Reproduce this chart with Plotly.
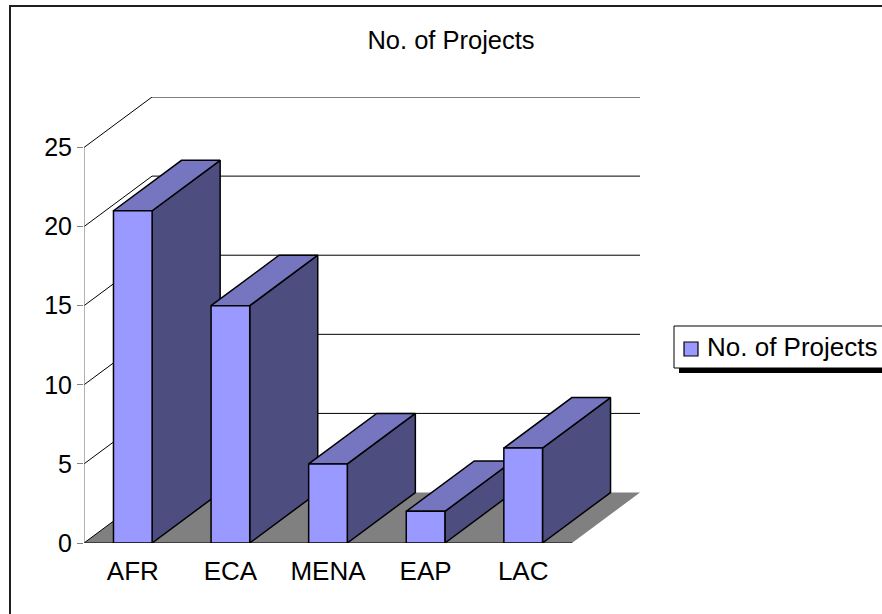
import plotly.graph_objects as go

# Chart data
categories = ["AFR", "ECA", "MENA", "EAP", "LAC"]
projects = [21, 15, 5, 2, 6]
y_ticks = [0, 5, 10, 15, 20, 25]
series_name = "No. of Projects"
chart_title = "No. of Projects"

# Oblique 3-D styling (in data units)
HW = 0.198          # half width of a bar (category units)
DX = 0.697          # depth offset along x (category units)
DY = 3.19           # depth offset along y (value units)
Y_MAX = 25

FRONT = "#9999FF"
TOP = "#7575C0"
SIDE = "#4D4D80"
FLOOR = "#808080"
FONT = "Liberation Sans, Arial, sans-serif"

W, H = 882, 614
ML, MR, MT, MB = 84, 242, 97, 71


def px_x(p):
    return (p - ML) / (W - ML - MR)


def px_y(p):
    return (H - MB - p) / (H - MT - MB)


fig = go.Figure()


def poly(xs, ys, fill, lw=1.5, lc="black"):
    fig.add_trace(go.Scatter(
        x=xs + [xs[0]], y=ys + [ys[0]], mode="lines", fill="toself",
        fillcolor=fill, line=dict(color=lc, width=lw),
        hoverinfo="skip", showlegend=False))


n = len(categories)
x_left, x_right = -0.5, n - 0.5

# floor
poly([x_left, x_right, x_right + DX, x_left + DX], [0, 0, DY, DY], FLOOR, lw=0, lc=FLOOR)

# back-wall and side-wall gridlines
gx, gy = [], []
for t in y_ticks:
    if t == 0:
        gx += [x_left, x_left + DX, None]
        gy += [0, DY, None]
    else:
        gx += [x_left, x_left + DX, x_right + DX, None]
        gy += [t, t + DY, t + DY, None]
gx += [x_left, x_right, None]
gy += [0, 0, None]
fig.add_trace(go.Scatter(x=gx, y=gy, mode="lines", line=dict(color="black", width=1),
                         hoverinfo="skip", showlegend=False))

# front value axis line
fig.add_trace(go.Scatter(x=[x_left, x_left], y=[0, Y_MAX], mode="lines",
                         line=dict(color="#808080", width=1.2),
                         hoverinfo="skip", showlegend=False))

# 3-D bars: side, top, front for each category, left to right
for i, v in enumerate(projects):
    x0, x1 = i - HW, i + HW
    poly([x1, x1 + DX, x1 + DX, x1], [0, DY, v + DY, v], SIDE)
    poly([x0, x1, x1 + DX, x0 + DX], [v, v, v + DY, v + DY], TOP)
    poly([x0, x1, x1, x0], [0, 0, v, v], FRONT)

shapes = [
    # legend drop shadow
    dict(type="rect", xref="paper", yref="paper",
         x0=px_x(679), x1=px_x(905), y0=px_y(373), y1=px_y(331),
         fillcolor="black", line=dict(width=0), layer="above"),
    # legend box
    dict(type="rect", xref="paper", yref="paper",
         x0=px_x(674), x1=px_x(900), y0=px_y(368), y1=px_y(326),
         fillcolor="white", line=dict(color="black", width=1), layer="above"),
    # legend key
    dict(type="rect", xref="paper", yref="paper",
         x0=px_x(684), x1=px_x(698), y0=px_y(356), y1=px_y(342),
         fillcolor=FRONT, line=dict(color="black", width=1.2), layer="above"),
    # chart frame
    dict(type="rect", xref="paper", yref="paper",
         x0=px_x(10), x1=px_x(900), y0=px_y(630), y1=px_y(6),
         fillcolor="rgba(0,0,0,0)", line=dict(color="#202020", width=2), layer="above"),
]

annotations = [
    dict(text=series_name, xref="paper", yref="paper", x=px_x(705), y=px_y(347),
         xanchor="left", yanchor="middle", showarrow=False,
         font=dict(size=26, family=FONT, color="black")),
]

fig.update_layout(
    width=W, height=H,
    margin=dict(l=ML, r=MR, t=MT, b=MB, autoexpand=False),
    paper_bgcolor="white", plot_bgcolor="white",
    font=dict(family=FONT, color="black", size=24),
    hovermode=False,
    title=dict(text=chart_title, x=451 / W, xref="container", xanchor="center",
               y=1 - 40 / H, yref="container", yanchor="middle",
               font=dict(size=25.5, family=FONT, color="black")),
    xaxis=dict(range=[x_left, x_right + DX], tickvals=list(range(n)), ticktext=categories,
               showgrid=False, zeroline=False, showline=False, ticks="",
               ticklabelstandoff=10,
               tickfont=dict(size=26), fixedrange=True),
    yaxis=dict(range=[0, Y_MAX + DY], tickvals=y_ticks, ticktext=[str(t) for t in y_ticks],
               showgrid=False, zeroline=False, showline=False, ticks="outside",
               ticklen=6, tickcolor="#808080", tickwidth=1,
               tickfont=dict(size=25), fixedrange=True),
    shapes=shapes,
    annotations=annotations,
    showlegend=False,
)

fig.write_html("out.html", config={"displayModeBar": False})
